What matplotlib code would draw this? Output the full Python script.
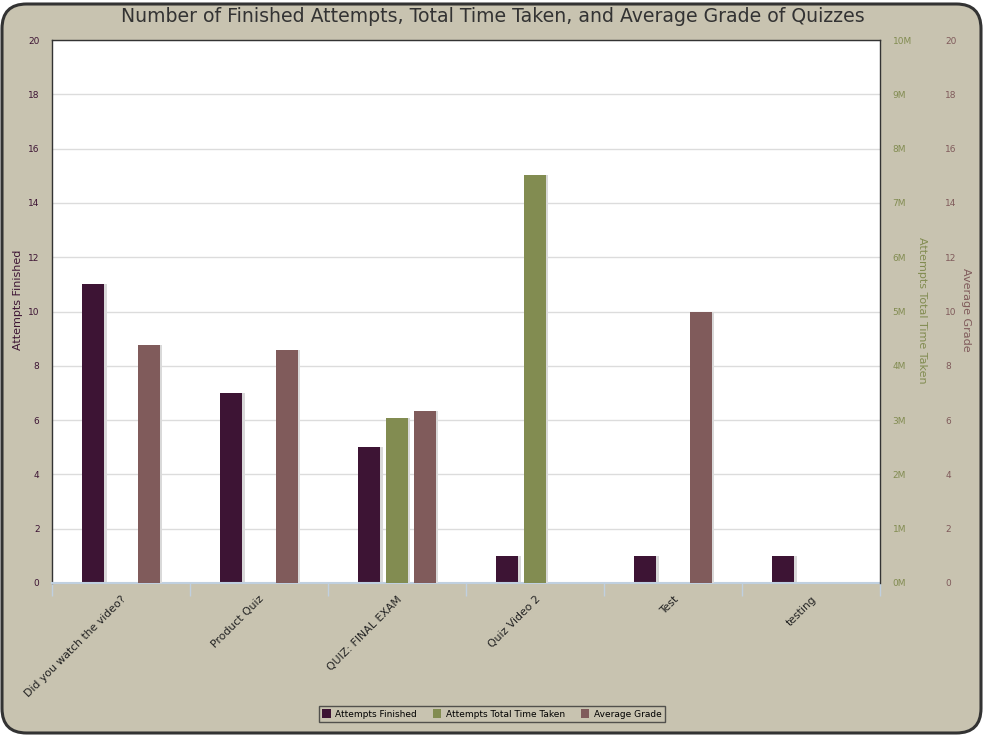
import matplotlib
matplotlib.use("Agg")
import matplotlib.pyplot as plt
import numpy as np
from matplotlib.patches import FancyBboxPatch, Patch
from matplotlib.ticker import FuncFormatter, MultipleLocator

categories = ["Did you watch the video?", "Product Quiz", "QUIZ: FINAL EXAM",
              "Quiz Video 2", "Test", "testing"]
attempts_finished = [11, 7, 5, 1, 1, 1]
time_taken_m = [0, 0, 3.03, 7.51, 0, 0]   # millions
average_grade = [8.75, 8.6, 6.33, 0, 10, 0]

C_ATT = "#3D1434"
C_TIME = "#828C51"
C_GRADE = "#805B5B"
BG = "#C8C3B0"

W, H = 985, 735
fig = plt.figure(figsize=(W / 100, H / 100), dpi=100, facecolor=BG)
fig.patch.set_alpha(0)
frame = FancyBboxPatch((2 / W, 2 / H), (W - 6) / W, (H - 6) / H,
                       boxstyle="round,pad=0,rounding_size=0.025",
                       transform=fig.transFigure, facecolor=BG,
                       edgecolor="#333333", linewidth=2.2, zorder=-10,
                       mutation_aspect=W / H)
fig.patches.append(frame)

L, R, T, B = 52, 880, 40, 583
ax = fig.add_axes([L / W, 1 - B / H, (R - L) / W, (B - T) / H])
ax.set_facecolor("white")
ax2 = ax.twinx()
ax3 = ax.twinx()

x = np.arange(len(categories))
bw = 0.16
step = 0.2
shadow_dx = 0.012

def draw(a, xs, vals, color):
    for xi, v in zip(xs, vals):
        if v <= 0:
            continue
        a.bar(xi + shadow_dx, v, width=bw + 0.01, color="#d9d9d9", zorder=1)
        a.bar(xi, v, width=bw, color=color, zorder=2)

draw(ax, x - step, attempts_finished, C_ATT)
draw(ax2, x, time_taken_m, C_TIME)
draw(ax3, x + step, average_grade, C_GRADE)

ax.set_xlim(-0.5, len(categories) - 0.5)
ax.set_ylim(0, 20)
ax2.set_ylim(0, 10)
ax3.set_ylim(0, 20)

ax.yaxis.set_major_locator(MultipleLocator(2))
ax2.yaxis.set_major_locator(MultipleLocator(1))
ax3.yaxis.set_major_locator(MultipleLocator(2))
ax2.yaxis.set_major_formatter(FuncFormatter(lambda v, p: f"{int(round(v))}M"))

ax.grid(axis="y", color="#dcdcdc", linewidth=1.0, zorder=0)
ax.set_axisbelow(True)

ax.set_xticks(np.arange(-0.5, len(categories)))
ax.set_xticklabels([])
ax.tick_params(axis="x", which="major", length=9, color="#C0D0E0", width=1)
ax.set_xticks(x, minor=True)
ax.set_xticklabels(categories, minor=True, rotation=45, ha="right",
                   rotation_mode="anchor", fontsize=7.8, color="#222222")
ax.tick_params(axis="x", which="minor", length=0, pad=8)

ax.tick_params(axis="y", length=0, labelsize=6.5, labelcolor=C_ATT, pad=9)
ax2.tick_params(axis="y", length=0, labelsize=6.5, labelcolor=C_TIME, pad=9)
ax3.tick_params(axis="y", length=0, labelsize=6.5, labelcolor=C_GRADE, pad=47)

for a in (ax, ax2, ax3):
    for s in ("top", "right", "left", "bottom"):
        a.spines[s].set_visible(False)
ax.spines["left"].set_visible(True)
ax.spines["left"].set_color("#333333")
ax.spines["left"].set_linewidth(1)
ax.spines["bottom"].set_visible(True)
ax.spines["bottom"].set_color("#C0D0E0")
ax.spines["bottom"].set_linewidth(1.5)
ax.spines["top"].set_visible(True)
ax.spines["top"].set_color("#333333")
ax.spines["top"].set_linewidth(1)
ax2.spines["right"].set_visible(True)
ax2.spines["right"].set_color("#333333")
ax2.spines["right"].set_linewidth(1)

ax.set_ylabel("Attempts Finished", fontsize=8, color=C_ATT)
ax2.set_ylabel("Attempts Total Time Taken", fontsize=8, color=C_TIME,
               rotation=-90)
ax3.set_ylabel("Average Grade", fontsize=8, color=C_GRADE, rotation=-90)
ax2.yaxis.set_label_coords((922 - L) / (R - L), (B - 310) / (B - T))
ax3.yaxis.set_label_coords((966 - L) / (R - L), (B - 310) / (B - T))
ax.yaxis.set_label_coords((18 - L) / (R - L), (B - 300) / (B - T))
ax.yaxis.label.set_va("center")
ax2.yaxis.label.set_va("center")
ax3.yaxis.label.set_va("center")

fig.text(0.5, 1 - 17 / H, "Number of Finished Attempts, Total Time Taken, and Average Grade of Quizzes",
         ha="center", va="center", fontsize=13.6, color="#333333")

handles = [Patch(facecolor=C_ATT, label="Attempts Finished"),
           Patch(facecolor=C_TIME, label="Attempts Total Time Taken"),
           Patch(facecolor=C_GRADE, label="Average Grade")]
leg = fig.legend(handles=handles, loc="center", ncol=3,
                 bbox_to_anchor=(492 / W, 1 - 714 / H), fontsize=6.5,
                 frameon=True, fancybox=False, handlelength=0.9,
                 handleheight=1.1, handletextpad=0.5, columnspacing=1.8,
                 borderpad=0.35)
leg.get_frame().set_facecolor(BG)
leg.get_frame().set_edgecolor("#333333")
leg.get_frame().set_linewidth(1)

fig.savefig("out.png", dpi=100, facecolor=BG)
